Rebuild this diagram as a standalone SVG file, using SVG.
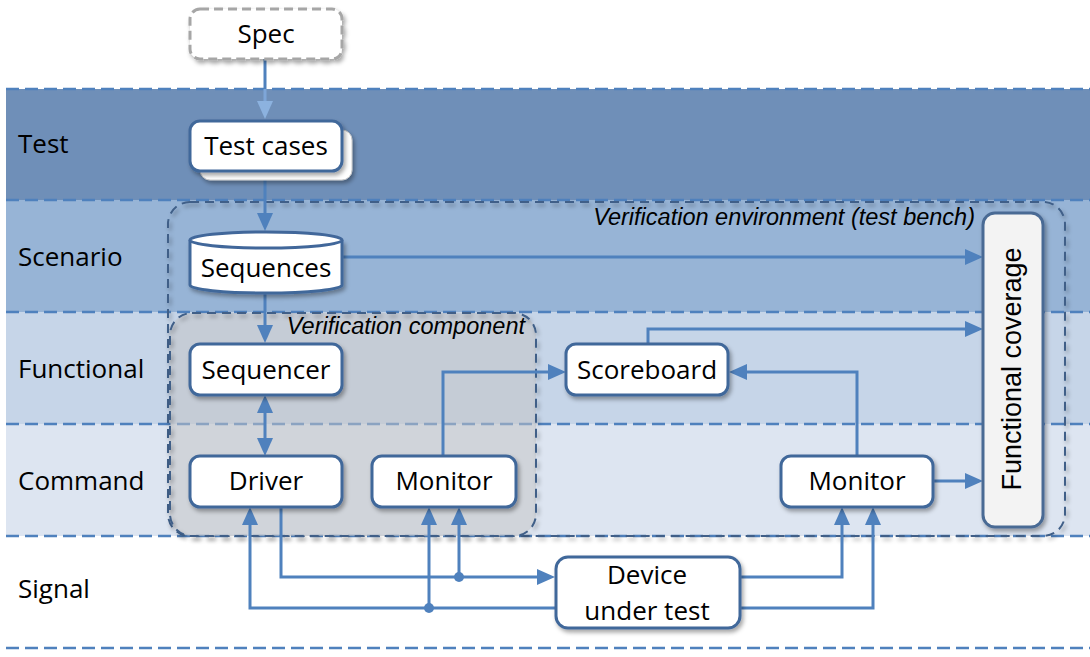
<svg xmlns="http://www.w3.org/2000/svg" width="1090" height="657" viewBox="0 0 1090 657">
<style>
.band-label{font-family:"Open Sans","Noto Sans",sans-serif;font-size:26px;fill:#000}
.nt{font-family:"Open Sans","Noto Sans",sans-serif;font-size:26px;fill:#000;text-anchor:middle}
.it{font-family:"Liberation Sans",Arial,sans-serif;font-size:23.5px;font-style:italic;fill:#000;text-anchor:end}
.node{fill:#fff;stroke:#41679a;stroke-width:3}
.sep{stroke:#4f81bd;stroke-width:2.5;stroke-dasharray:13 6;fill:none}
.conn{fill:none;stroke:#4f81bd;stroke-width:3}
.cont{stroke:#3f5f88;stroke-width:2;stroke-dasharray:9 6}
</style>
<defs>
<filter id="sh" x="-20%" y="-20%" width="150%" height="160%">
<feDropShadow dx="2" dy="3" stdDeviation="2" flood-color="#000" flood-opacity="0.35"/>
</filter>
<marker id="ah" viewBox="0 0 18 16" refX="12" refY="8" markerWidth="18" markerHeight="16" orient="auto-start-reverse" markerUnits="userSpaceOnUse">
<path d="M0,0 L18,8 L0,16 z" fill="#4f81bd"/>
</marker>
<marker id="ahl" viewBox="0 0 18 16" refX="12" refY="8" markerWidth="18" markerHeight="16" orient="auto" markerUnits="userSpaceOnUse">
<path d="M0,0 L18,8 L0,16 z" fill="#8cb2df"/>
</marker>
</defs>

<g id="bands">
<rect x="6" y="89" width="1084" height="111" fill="#6f8fb8"/>
<rect x="6" y="200" width="1084" height="112" fill="#97b4d6"/>
<rect x="6" y="312" width="1084" height="112" fill="#c6d5e8"/>
<rect x="6" y="424" width="1084" height="112" fill="#dde5f1"/>
<path class="sep" d="M6,89 H1090 M6,200 H1090 M6,312 H1090 M6,424 H1090 M6,536 H1090 M6,648 H1090"/>
<text class="band-label" x="18" y="153">Test</text>
<text class="band-label" x="18" y="266">Scenario</text>
<text class="band-label" x="18" y="378">Functional</text>
<text class="band-label" x="18" y="490">Command</text>
<text class="band-label" x="18" y="598">Signal</text>
</g>

<g id="verification-environment">
<rect class="cont" x="168" y="202" width="897" height="334" rx="22" fill="none" filter="url(#sh)"/>
<text class="it" x="975" y="225">Verification environment (test bench)</text>
</g>

<g id="verification-component">
<rect x="170" y="313" width="366" height="223" rx="22" fill="#c4c4c5" fill-opacity="0.52"/>
<rect class="cont" x="170" y="313" width="366" height="223" rx="22" fill="none" filter="url(#sh)"/>
<text class="it" x="525" y="334">Verification component</text>
</g>

<g id="connectors">
<path class="conn" d="M265,59 V89"/>
<path d="M265,89 V113" fill="none" stroke="#7ea6d8" stroke-width="3" marker-end="url(#ahl)"/>
<path class="conn" d="M265,171 V225" marker-end="url(#ah)"/>
<path class="conn" d="M342,257 H977" marker-end="url(#ah)"/>
<path class="conn" d="M265,293 V337" marker-end="url(#ah)"/>
<path class="conn" d="M265,401 V450" marker-start="url(#ah)" marker-end="url(#ah)"/>
<path class="conn" d="M443,456 V372 H560" marker-end="url(#ah)"/>
<path class="conn" d="M648,344 V329 H977" marker-end="url(#ah)"/>
<path class="conn" d="M857,456 V372 H735" marker-end="url(#ah)"/>
<path class="conn" d="M933,481 H977" marker-end="url(#ah)"/>
<path class="conn" d="M281,507 V577 H549" marker-end="url(#ah)"/>
<path class="conn" d="M459,577 V513" marker-end="url(#ah)"/>
<path class="conn" d="M555,608 H250 V513" marker-end="url(#ah)"/>
<path class="conn" d="M429,608 V513" marker-end="url(#ah)"/>
<path class="conn" d="M740,577 H842 V513" marker-end="url(#ah)"/>
<path class="conn" d="M740,608 H873 V513" marker-end="url(#ah)"/>
<circle cx="459" cy="577" r="5" fill="#4f81bd"/>
<circle cx="429" cy="608" r="5" fill="#4f81bd"/>
</g>

<g id="spec">
<rect x="190" y="9" width="152" height="50" rx="10" fill="#fff" stroke="#a6a6a6" stroke-width="3" stroke-dasharray="9 5" filter="url(#sh)"/>
<text class="nt" x="266" y="43">Spec</text>
</g>

<g id="test-cases">
<rect x="200" y="130" width="152" height="50" rx="10" fill="#fff" stroke="#c8c8c8" stroke-width="1" filter="url(#sh)"/>
<rect class="node" x="190" y="121" width="152" height="50" rx="10" filter="url(#sh)"/>
<text class="nt" x="266" y="155">Test cases</text>
</g>

<g id="sequences">
<path class="node" d="M190,240 V285 A76,8 0 0 0 342,285 V240" filter="url(#sh)"/>
<ellipse class="node" cx="266" cy="240" rx="76" ry="8"/>
<text class="nt" x="266" y="277">Sequences</text>
</g>

<g id="sequencer">
<rect class="node" x="190" y="344" width="152" height="51" rx="10" filter="url(#sh)"/>
<text class="nt" x="266" y="379">Sequencer</text>
</g>

<g id="driver">
<rect class="node" x="190" y="456" width="152" height="51" rx="10" filter="url(#sh)"/>
<text class="nt" x="266" y="490">Driver</text>
</g>

<g id="monitor-1">
<rect class="node" x="372" y="456" width="144" height="51" rx="10" filter="url(#sh)"/>
<text class="nt" x="444" y="490">Monitor</text>
</g>

<g id="scoreboard">
<rect class="node" x="566" y="344" width="162" height="51" rx="10" filter="url(#sh)"/>
<text class="nt" x="647" y="379">Scoreboard</text>
</g>

<g id="monitor-2">
<rect class="node" x="781" y="456" width="152" height="51" rx="10" filter="url(#sh)"/>
<text class="nt" x="857" y="490">Monitor</text>
</g>

<g id="functional-coverage">
<rect x="983" y="213" width="60" height="314" rx="12" fill="#f3f3f3" stroke="#4a6a94" stroke-width="3" filter="url(#sh)"/>
<text x="1021" y="369" transform="rotate(-90 1021 369)" text-anchor="middle" font-family="'Liberation Sans',Arial,sans-serif" font-size="27" fill="#000">Functional coverage</text>
</g>

<g id="dut">
<rect class="node" x="556" y="557" width="184" height="71" rx="12" filter="url(#sh)"/>
<text class="nt" x="647" y="584">Device</text>
<text class="nt" x="647" y="620">under test</text>
</g>
</svg>
